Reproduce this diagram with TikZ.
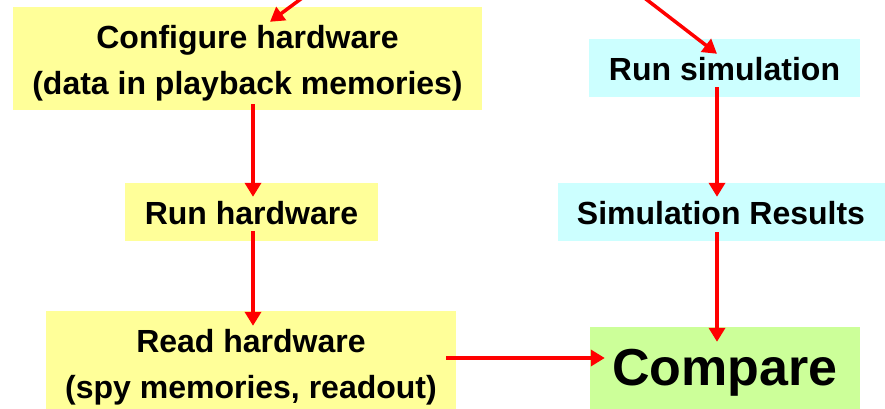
\documentclass[tikz,border=0pt]{standalone}
\usepackage{fontspec}
\setmainfont{Liberation Sans}
\usetikzlibrary{arrows.meta}

\definecolor{hwyellow}{HTML}{FFFF99}
\definecolor{simcyan}{HTML}{CCFFFF}
\definecolor{cmpgreen}{HTML}{CCFF99}
\definecolor{flowred}{HTML}{FF0000}

\tikzset{
  box/.style={inner sep=0pt},
  hwbox/.style={box, fill=hwyellow},
  simbox/.style={box, fill=simcyan},
  cmpbox/.style={box, fill=cmpgreen},
  boxtext/.style={inner sep=0pt, align=center, font=\fontsize{32}{46}\selectfont\bfseries},
  bigtext/.style={inner sep=0pt, font=\fontsize{52}{60}\selectfont\bfseries},
  flow/.style={draw=flowred, line width=3.5pt,
    -{Triangle[width=16pt,length=14pt]}},
}

\begin{document}
\begin{tikzpicture}[x=1pt, y=-1pt]
  \clip (0,0) rectangle (885,409);

  % column positions of the vertical flow
  \coordinate (colL) at (253,0);
  \coordinate (colR) at (717,0);

  % hardware side
  \node[hwbox, minimum width=469pt, minimum height=103pt] (cfg) at (247.5,58.5) {};
  \node[boxtext] (cfgtext) at ([yshift=-5pt]cfg.center)
    {Configure hardware\\(data in playback memories)};
  \node[hwbox, minimum width=253pt, minimum height=58pt] (runhw) at (251.5,212) {};
  \node[boxtext] (runhwtext) at ([yshift=-1pt]runhw.center) {Run hardware};
  \node[hwbox, minimum width=410pt, minimum height=100pt] (readhw) at (251,361) {};
  \node[boxtext] (readhwtext) at ([yshift=-6pt]readhw.center)
    {Read hardware\\(spy memories, readout)};

  % simulation side
  \node[simbox, minimum width=271pt, minimum height=58pt] (runsim) at (724.5,68) {};
  \node[boxtext] (runsimtext) at ([yshift=-1pt]runsim.center) {Run simulation};
  \node[simbox, minimum width=332pt, minimum height=58pt] (simres) at (724,212) {};
  \node[boxtext] (simrestext) at ([xshift=-3pt,yshift=-1pt]simres.center) {Simulation Results};

  % comparison
  \node[cmpbox, minimum width=270pt, minimum height=84pt] (cmp) at (725,369) {};
  \node[bigtext] (cmptext) at ([yshift=-4pt]cmp.center) {Compare};

  % incoming flows from above
  \coordinate (inL) at (340,-30);
  \coordinate (inR) at (577,-54);
  \draw[flow] (inL) -- ([xshift=22.5pt,yshift=-15pt]cfg.north);
  \draw[flow] (inR) -- ([yshift=-15pt]runsim.north -| colR);

  % vertical flows
  \draw[flow] ([yshift=6pt]cfg.south -| colL) -- ([yshift=-14pt]runhw.north -| colL);
  \draw[flow] ([yshift=10pt]runhw.south -| colL) -- ([yshift=-15pt]readhw.north -| colL);
  \draw[flow] ([yshift=10pt]runsim.south -| colR) -- ([yshift=-14pt]simres.north -| colR);
  \draw[flow] ([yshift=9pt]simres.south -| colR) -- ([yshift=-15pt]cmp.north -| colR);

  % hardware results into the comparison
  \coordinate (rowC) at (0,358);
  \draw[flow] ([xshift=-10pt]readhw.east |- rowC) -- ([xshift=15pt]cmp.west |- rowC);
\end{tikzpicture}
\end{document}
